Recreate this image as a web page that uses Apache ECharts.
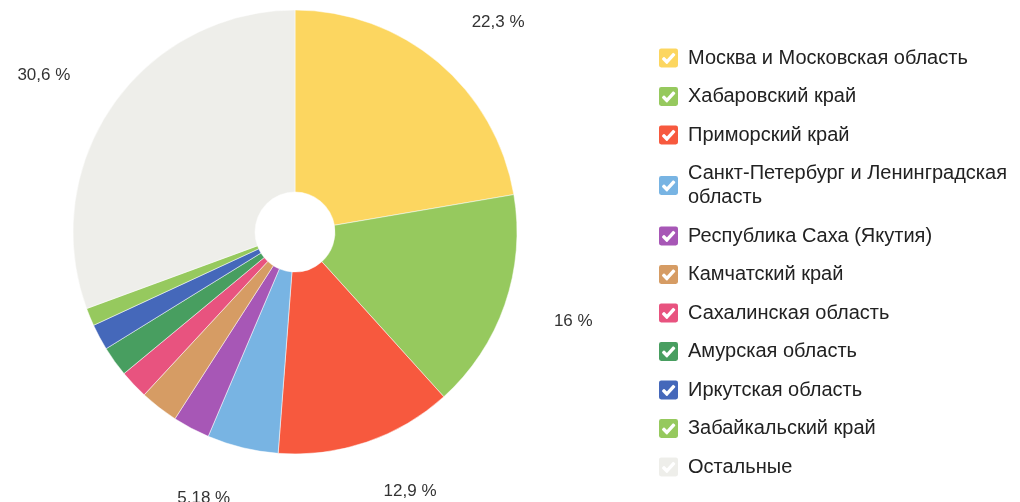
<!DOCTYPE html>
<html>
<head>
<meta charset="utf-8">
<script src="https://cdn.jsdelivr.net/npm/echarts@6/dist/echarts.min.js"></script>
<style>
  html, body { margin: 0; padding: 0; background: #fff; }
  #chart { width: 1020px; height: 502px; }
</style>
</head>
<body>
<div id="chart"></div>
<script>
// регионы и доли, %
var regions = [
    'Москва и Московская область',
    'Хабаровский край',
    'Приморский край',
    'Санкт-Петербург и Ленинградская область',
    'Республика Саха (Якутия)',
    'Камчатский край',
    'Сахалинская область',
    'Амурская область',
    'Иркутская область',
    'Забайкальский край',
    'Остальные'
];
var shares = [22.3, 16, 12.9, 5.18, 2.7, 2.8, 2.1, 2.2, 1.9, 1.3, 30.6];
var colors = ['#FCD660', '#96C95E', '#F7593E', '#78B4E3', '#A757B6', '#D69C64',
    '#E8537F', '#489E60', '#4568BA', '#96C95E', '#EEEEEA'];

// иконка легенды: скруглённый квадрат с «галочкой» (дыркой)
var checkIcon = 'path://M3,0 L17,0 Q20,0 20,3 L20,17 Q20,20 17,20 L3,20 Q0,20 0,17 L0,3 Q0,0 3,0 Z ' +
    'M4.8,10.9 L8.5,14.7 L15.5,7.0 L14.5,6.1 L8.5,12.8 L5.7,10.0 Z';

function renderChart() {
    var dom = document.getElementById('chart');
    var myChart = echarts.init(dom);
    var option;

    var pieData = regions.map(function (name, i) {
        return {
            name: name,
            value: shares[i],
            itemStyle: { color: colors[i] },
            label: { show: shares[i] >= 5 }
        };
    });

    option = {
        backgroundColor: '#FFFFFF',
        animation: false,
        legend: {
            orient: 'vertical',
            left: 652,
            top: 41,
            icon: checkIcon,
            itemWidth: 21,
            itemHeight: 21,
            itemGap: 14.5,
            data: regions,
            formatter: function (name) {
                return name.replace('Ленинградская ', 'Ленинградская\n');
            },
            textStyle: {
                fontFamily: 'Liberation Sans',
                fontSize: 20,
                color: '#222',
                lineHeight: 24,
                padding: [0, 0, 0, 4]
            }
        },
        series: [{
            name: 'Доля',
            type: 'pie',
            center: [295, 232],
            radius: [40, 222],
            startAngle: 90,
            clockwise: true,
            avoidLabelOverlap: false,
            itemStyle: {
                borderColor: '#fff',
                borderWidth: 0.5
            },
            label: {
                position: 'outside',
                distanceToLabelLine: 0,
                fontFamily: 'Liberation Sans',
                fontSize: 17,
                color: '#333',
                formatter: function (p) {
                    return String(p.value).replace('.', ',') + ' %';
                }
            },
            labelLine: { show: false, length: 52, length2: 0 },
            data: pieData
        }]
    };

    if (option && typeof option === 'object') {
        myChart.setOption(option);
    }
}
renderChart();
</script>
</body>
</html>
